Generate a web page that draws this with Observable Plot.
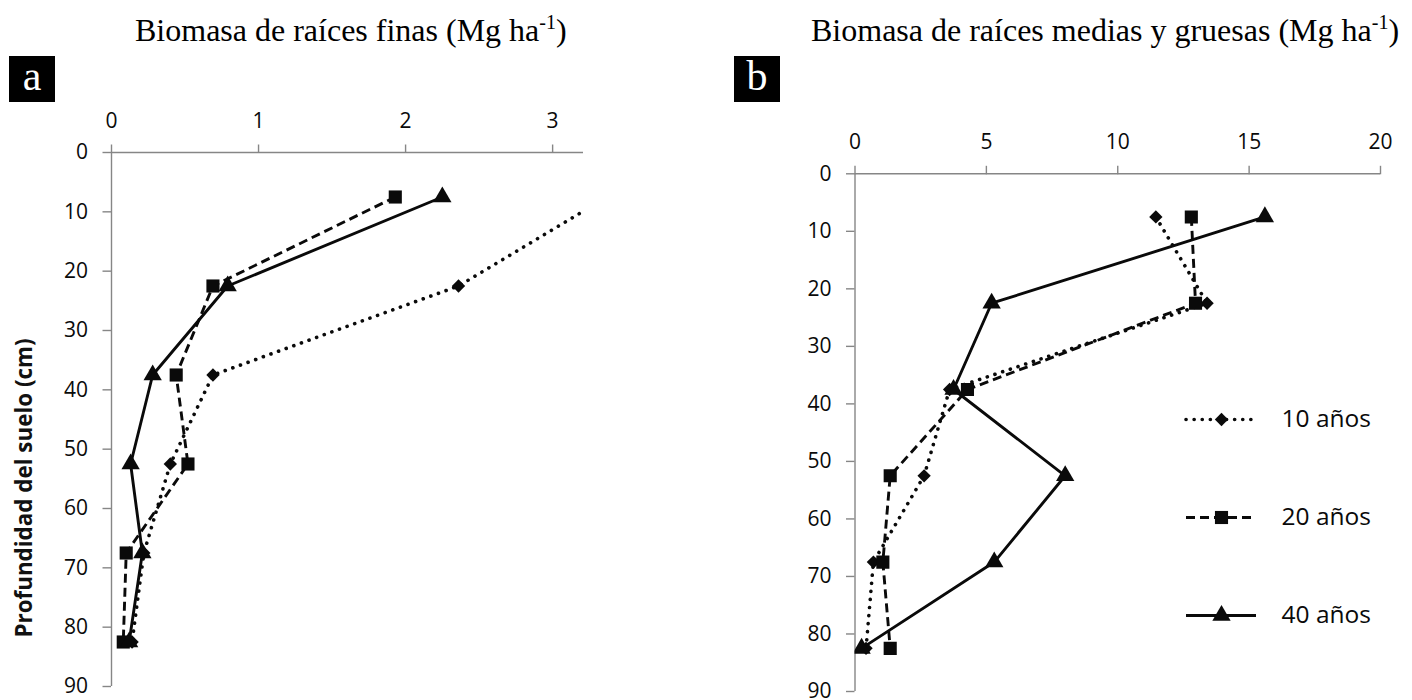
<!DOCTYPE html>
<html>
<head>
<meta charset="utf-8">
<script src="https://cdn.jsdelivr.net/npm/d3@7"></script>
<script src="https://cdn.jsdelivr.net/npm/@observablehq/plot@0.6"></script>
<style>
  body { margin: 0; background: #fff; }
  #root { position: relative; width: 1412px; height: 700px; overflow: hidden; background: #fff; }
  .title { position: absolute; top: 14px; font-family: "Liberation Serif", "Times New Roman", serif; font-size: 32px; line-height: 32px; white-space: nowrap; color: #000; }
  .title sup { font-size: 20px; line-height: 0; vertical-align: baseline; position: relative; top: -12px; }
  .box { position: absolute; top: 56px; width: 46px; height: 46px; background: #000; color: #fff; font-family: "Liberation Serif", serif; font-size: 42px; line-height: 1; display: flex; align-items: center; justify-content: center; }
  .box span { position: relative; top: -3px; }
  .ylab { position: absolute; left: 23px; top: 488px; transform: translate(-50%, -50%) rotate(-90deg); white-space: nowrap; font-family: "Open Sans", sans-serif; font-weight: bold; font-size: 22.4px; color: #111; }
  #root svg { position: absolute; }
</style>
</head>
<body>
<div id="root">
  <div class="title" style="left:135px">Biomasa de raíces finas (Mg ha<sup>-1</sup>)</div>
  <div class="title" style="left:811px">Biomasa de raíces medias y gruesas (Mg ha<sup>-1</sup>)</div>
  <div class="box" style="left:9px"><span>a</span></div>
  <div class="box" style="left:734px"><span>b</span></div>
  <div class="ylab">Profundidad del suelo (cm)</div>
</div>
<script>
// ---- data ----
const series = ["10 años", "20 años", "40 años"];
const depth = [7.5, 22.5, 37.5, 52.5, 67.5, 82.5];
// Panel a: fine roots (Mg ha-1)
const finas10 = [3.37, 2.36, 0.69, 0.40, 0.22, 0.14];
const finas20 = [1.93, 0.69, 0.44, 0.52, 0.10, 0.08];
const finas40 = [2.25, 0.79, 0.28, 0.13, 0.21, 0.12];
// Panel b: medium and coarse roots (Mg ha-1)
const medias10 = [11.45, 13.4, 3.6, 2.63, 0.7, 0.42];
const medias20 = [12.8, 12.96, 4.28, 1.34, 1.06, 1.34];
const medias40 = [15.6, 5.2, 3.75, 8.0, 5.3, 0.25];
// tick labels
const xTicksA = [0, 1, 2, 3];
const xTicksB = [0, 5, 10, 15, 20];
const yTicks = [0, 10, 20, 30, 40, 50, 60, 70, 80, 90];

// ---- styles ----
const symbols = ["diamond2", "square", "triangle"];
const dash = {"10 años": "0.1 8", "20 años": "9 5", "40 años": null};
const lw = {"10 años": 3.6, "20 años": 2.9, "40 años": 2.9};
const symR = {"10 años": 6, "20 años": 7.4, "40 años": 6.8};
const axisGray = "#868686";
const ink = "#0a0a0a";

function rows(arrs) {
  return series.flatMap((s, i) => depth.map((d, j) => ({serie: s, depth: d, value: arrs[i][j]})));
}

function seriesMarks(data) {
  const marks = [];
  for (const s of series) {
    const sub = data.filter(d => d.serie === s);
    marks.push(Plot.line(sub, {
      x: "value", y: "depth", stroke: ink, strokeWidth: lw[s],
      strokeDasharray: dash[s], strokeLinecap: s === "10 años" ? "round" : "butt",
      strokeLinejoin: "round", clip: true
    }));
  }
  for (const s of series) {
    const sub = data.filter(d => d.serie === s);
    marks.push(Plot.dot(sub, {
      x: "value", y: "depth", symbol: "serie", fill: ink, stroke: "none", r: symR[s], clip: true
    }));
  }
  return marks;
}

function panel({data, width, height, mL, mR, mT, mB, xDomain, xTicks}) {
  return Plot.plot({
    width, height, marginLeft: mL, marginRight: mR, marginTop: mT, marginBottom: mB,
    style: {fontFamily: "'Open Sans', sans-serif", fontSize: "21px", color: ink, background: "transparent", overflow: "visible"},
    x: {domain: xDomain, axis: null},
    y: {domain: [0, 90], reverse: true, axis: null},
    symbol: {domain: series, range: symbols},
    marks: [
      Plot.ruleY([0], {stroke: axisGray, strokeWidth: 1.4}),
      Plot.ruleX([0], {stroke: axisGray, strokeWidth: 1.4}),
      Plot.axisX({anchor: "top", ticks: xTicks, tickSize: 8.5, tickPadding: 16, stroke: axisGray, strokeWidth: 1.4, fill: ink, fontSize: 21, label: null, tickFormat: d => String(d)}),
      Plot.axisY({anchor: "left", ticks: yTicks, tickSize: 8.5, tickPadding: 15, stroke: axisGray, strokeWidth: 1.4, fill: ink, fontSize: 21, label: null, tickFormat: d => String(d)}),
      ...seriesMarks(data)
    ]
  });
}

const root = document.getElementById("root");

const pa = panel({data: rows([finas10, finas20, finas40]), width: 640, height: 700, mL: 111, mR: 57, mT: 152, mB: 14, xDomain: [0, 3.21], xTicks: xTicksA});
pa.style.left = "0px"; pa.style.top = "0px";
root.appendChild(pa);

const pb = panel({data: rows([medias10, medias20, medias40]), width: 712, height: 700, mL: 154.5, mR: 32, mT: 173.3, mB: 9, xDomain: [0, 20], xTicks: xTicksB});
pb.style.left = "700px"; pb.style.top = "0px";
root.appendChild(pb);

// ---- legend ----
const lg = Plot.plot({
  width: 252, height: 280, margin: 0,
  style: {fontFamily: "'Open Sans', sans-serif", fontSize: "24.5px", color: ink, background: "transparent", overflow: "visible"},
  x: {domain: [0, 1], range: [26, 96], axis: null},
  y: {domain: series, range: [39, 235], type: "point", padding: 0, axis: null},
  symbol: {domain: series, range: symbols},
  marks: [
    ...series.map(s => Plot.ruleY([s], {y: d => d, x1: 0, x2: 1, stroke: ink, strokeWidth: lw[s], strokeDasharray: dash[s], strokeLinecap: s === "10 años" ? "round" : "butt"})),
    ...series.map(s => Plot.dot([s], {x: 0.5, y: d => d, symbol: d => d, fill: ink, stroke: "none", r: symR[s]})),
    Plot.text(series, {x: 1, y: d => d, text: d => d, textAnchor: "start", dx: 25, fill: ink, fontSize: 24.5})
  ]
});
lg.style.left = "1160px"; lg.style.top = "380px";
root.appendChild(lg);
</script>
</body>
</html>
